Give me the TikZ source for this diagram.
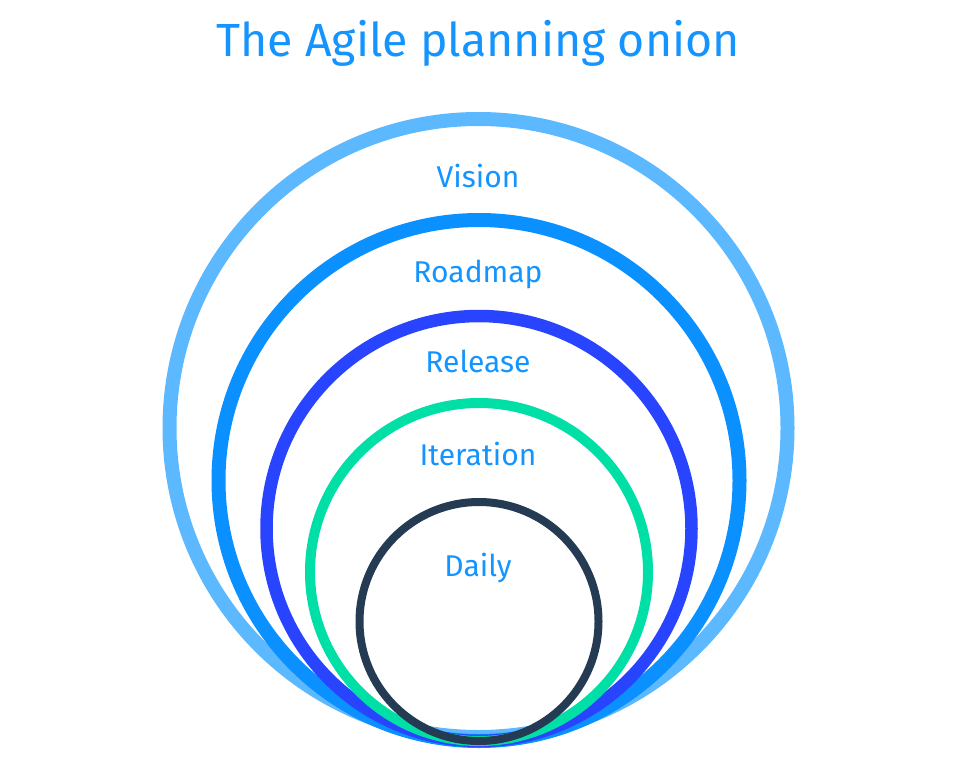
\documentclass[tikz,border=0pt]{standalone}
\usepackage{fontspec}
\setmainfont{Fira Sans}
\usepackage{tikz}
\definecolor{vis}{HTML}{5CB8FF}
\definecolor{road}{HTML}{0A90FF}
\definecolor{rel}{HTML}{2844FF}
\definecolor{iter}{HTML}{00DFA5}
\definecolor{dai}{HTML}{243B53}
\definecolor{txt}{HTML}{1494FF}

\begin{document}
\begin{tikzpicture}[x=1pt,y=-1pt,lbl/.style={text=txt,font=\fontsize{30}{32}\selectfont,anchor=base}]
      \useasboundingbox(0,0)rectangle(953,768);
      \node[text=txt,font=\fontsize{46.5}{50}\selectfont,anchor=base](title)at(478,57){The Agile planning onion};
      \draw[vis,line width=14pt](478.5,428)circle(309);
      \draw[road,line width=14pt](479,480.5)circle(260.5);
      \draw[rel,line width=12.5pt](479,528.5)circle(212.5);
      \draw[iter,line width=10pt](479,572)circle(169);
      \draw[dai,line width=8pt](479,621.5)circle(119.5);
      \node[lbl](vision)at(478,187){Vision};
      \node[lbl](roadmap)at(478,282){Roadmap};
      \node[lbl](release)at(478,372){Release};
      \node[lbl](iteration)at(478,465){Iteration};
      \node[lbl](daily)at(478,576){Daily};
    \end{tikzpicture}
\end{document}
